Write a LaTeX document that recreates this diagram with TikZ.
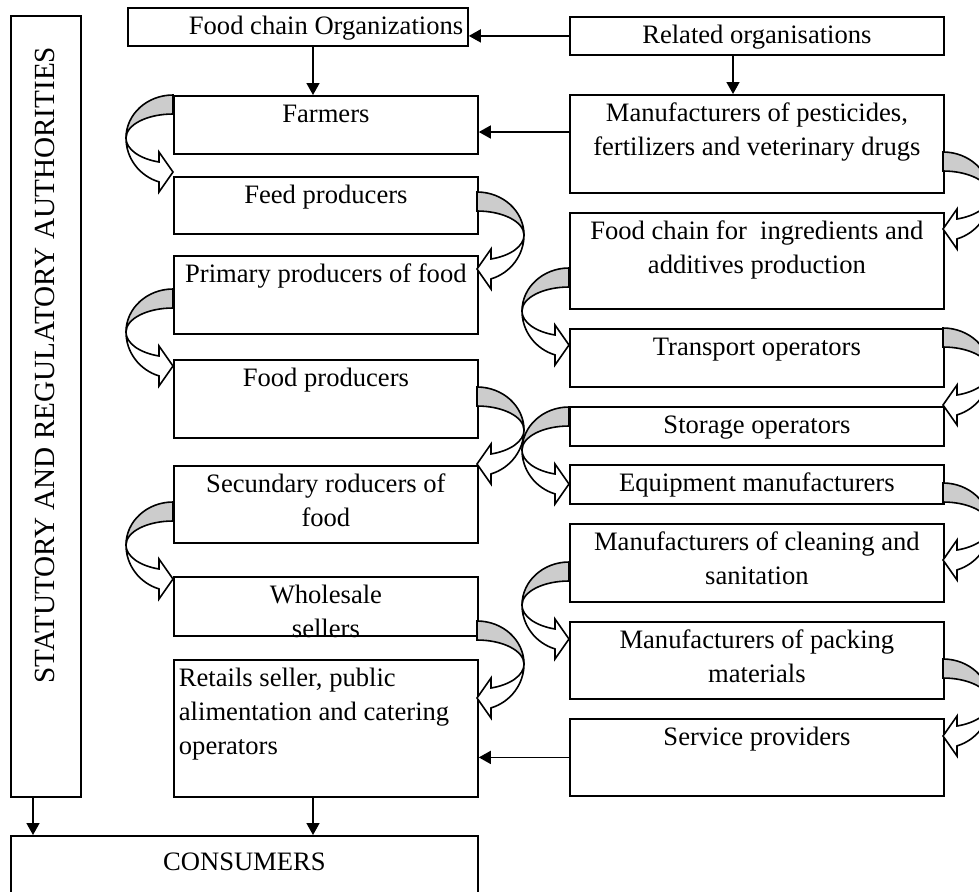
\documentclass[tikz,border=0pt]{standalone}
\usepackage{fontspec}
\setmainfont{Liberation Serif}
\usetikzlibrary{arrows.meta}
\tikzset{
    chain box/.style={draw, line width=0.9pt, inner sep=0pt, anchor=north west, fill=white},
    link/.style={line width=0.8pt, -{Triangle[length=6pt,width=6.5pt]}},
    band/.style={fill=black!20, draw, line width=0.8pt},
    tail/.style={fill=white, draw, line width=0.8pt}
}
% box with its text at the top: [alignment] name, x, y, width, height (pixels), text
\newcommand{\chainbox}[7][\centering]{%
  \node[chain box] (#2) at (#3,#4)
    {\parbox[t][\dimexpr #6pt/2\relax][t]{\dimexpr #5pt/2\relax}{#1\rule{0pt}{13.5pt}#7}};}
% curved block arrow: side x, top of band y, 1 = bulges left / -1 = bulges right
\newcommand{\bendarrow}[3]{%
  \begin{scope}[shift={(#1,#2)}]
    \draw[band] (0,0) arc[start angle=270, end angle=180, x radius=47*#3, y radius=43]
      arc[start angle=180, end angle=270, x radius=47*#3, y radius=24] -- cycle;
    \draw[tail] ({-47*#3},43) arc[start angle=180, end angle=107.3, x radius=47*#3, y radius=46]
      -- ({-14*#3},97) -- (0,77) -- ({-14*#3},57) -- ({-14*#3},67)
      arc[start angle=107.3, end angle=180, x radius=47*#3, y radius=25] -- cycle;
  \end{scope}}

\begin{document}
\begin{tikzpicture}[x=0.5pt, y=-0.5pt, font=\fontsize{13.3}{17}\selectfont]
    \clip (0,0) rectangle (979,891);

    % authorities and consumers
    \chainbox{auth}{10}{15}{70}{781}{}
    \node[rotate=90, font=\fontsize{14.6}{17}\selectfont] (authtext) at (45,365)
        {STATUTORY AND REGULATORY AUTHORITIES};
    \chainbox{cons}{10}{835}{467}{80}{\rule{0pt}{17.5pt}CONSUMERS}

    % left column
    \chainbox[\raggedright\leftskip=30.5pt]{fco}{127}{7}{340}{38}{Food chain Organizations}
    \chainbox{farm}{173}{95}{304}{58}{Farmers}
    \chainbox{feed}{173}{176}{304}{57}{Feed producers}
    \chainbox{prim}{173}{255}{304}{78}{Primary producers of food}
    \chainbox{fprod}{173}{359}{304}{78}{Food producers}
    \chainbox{sec}{173}{465}{304}{77}{Secundary roducers of\\food}
    \begin{scope}
        \clip (171,574) rectangle (479,637);
        \chainbox{whole}{173}{576}{304}{59}{Wholesale\\sellers}
    \end{scope}
    \chainbox[\raggedright\leftskip=2.5pt]{ret}{173}{659}{304}{137}{Retails seller, public\\alimentation and catering\\operators}

    % right column
    \chainbox{rel}{569}{16}{374}{38}{Related organisations}
    \chainbox{pest}{569}{94}{374}{98}{Manufacturers of pesticides,\\fertilizers and veterinary drugs}
    \chainbox{ingr}{569}{212}{374}{96}{Food chain for~ ingredients and\\additives production}
    \chainbox{trans}{569}{328}{374}{58}{Transport operators}
    \chainbox{stor}{569}{406}{374}{39}{Storage operators}
    \chainbox{equip}{569}{464}{374}{39}{Equipment manufacturers}
    \chainbox{clean}{569}{523}{374}{78}{Manufacturers of cleaning and\\sanitation}
    \chainbox{pack}{569}{621}{374}{77}{Manufacturers of packing\\materials}
    \chainbox{serv}{569}{718}{374}{77}{Service providers}

    % straight arrows
    \coordinate (midx) at (313,0);
    \coordinate (relx) at (733,0);
    \coordinate (authx) at (33,0);
    \coordinate (linky) at (0,132);
    \draw[link] (rel.west) -- (rel.west -| fco.east);
    \draw[link] (fco.south -| midx) -- (farm.north -| midx);
    \draw[link] (rel.south -| relx) -- (pest.north -| relx);
    \draw[link] (pest.west |- linky) -- (farm.east |- linky);
    \draw[link] (serv.west) -- (serv.west -| ret.east);
    \draw[link] (auth.south -| authx) -- (cons.north -| authx);
    \draw[link] (ret.south -| midx) -- (cons.north -| midx);

    % curved arrows between the steps
    \foreach \sx/\sy/\dir in {173/95/1, 173/289/1, 173/502/1,
                              477/192/-1, 477/387/-1, 477/621/-1,
                              569/268/1, 569/407/1, 569/562/1,
                              943/152/-1, 943/328/-1, 943/483/-1, 943/659/-1}
        \bendarrow{\sx}{\sy}{\dir};
\end{tikzpicture}
\end{document}
